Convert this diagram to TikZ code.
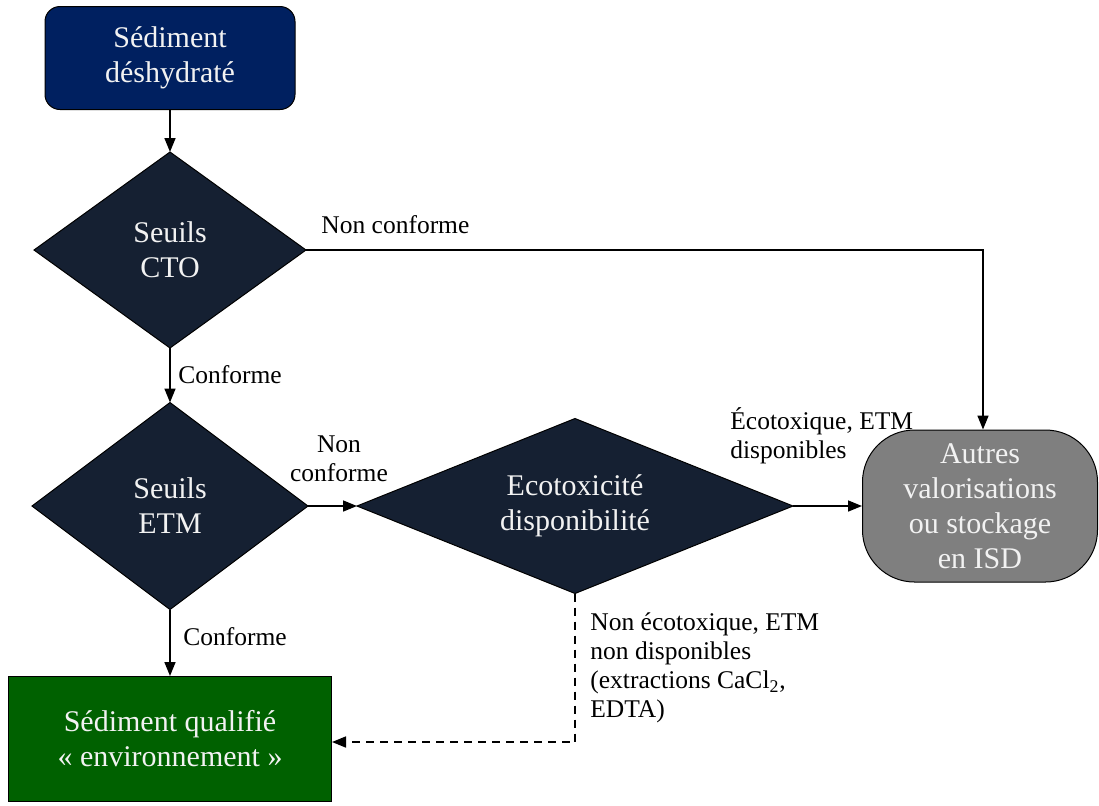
\documentclass[tikz,border=0pt]{standalone}
\usepackage{fontspec}
\setmainfont{Liberation Serif}
\usetikzlibrary{shapes.geometric,arrows.meta}
\definecolor{navybox}{HTML}{002060}
\definecolor{darkdiam}{HTML}{152032}
\definecolor{greenbox}{HTML}{006100}
\definecolor{graybox}{HTML}{7F7F7F}
\definecolor{lighttext}{HTML}{F2F2F2}
\begin{document}
\begin{tikzpicture}[x=0.5pt,y=-0.5pt,
  boxtext/.style={font=\fontsize{15}{17.5}\selectfont, text=lighttext, align=center},
  lbl/.style={font=\fontsize{12.75}{14.5}\selectfont, text=black, inner sep=0pt},
  decision/.style={diamond, boxtext, fill=darkdiam, draw=black, line width=0.5pt, inner sep=0pt, outer sep=0pt},
  arr/.style={line width=0.8pt, -{Triangle[length=7pt,width=5.5pt]}},
]
\useasboundingbox (0,0) rectangle (1099,805);
\node[boxtext, fill=navybox, draw=black, line width=0.5pt, rounded corners=7.5pt,
      minimum width=125pt, minimum height=51.5pt, inner sep=0pt] (top) at (170,58) {Sédiment\\déshydraté};
\node[decision, minimum width=136pt, minimum height=98pt, aspect=1.39] (cto) at (170,250) {Seuils\\CTO};
\node[decision, minimum width=138pt, minimum height=103.5pt, aspect=1.33] (etm) at (170,506) {Seuils\\ETM};
\node[decision, minimum width=218pt, minimum height=87.5pt, aspect=2.49] (eco) at (575,506) {Ecotoxicité\\disponibilité};
\node[boxtext, fill=graybox, draw=black, line width=0.5pt, rounded corners=26pt,
      minimum width=117.5pt, minimum height=76pt, inner sep=0pt] (autres) at (980,506) {Autres\\valorisations\\ou stockage\\en ISD};
\node[boxtext, fill=greenbox, draw=black, line width=0.5pt,
      minimum width=161.5pt, minimum height=62.5pt, inner sep=0pt] (green) at (170,739) {Sédiment qualifié\\« environnement »};

\draw[arr] (top.south) -- (cto.north);
\draw[arr] (cto.south) -- (etm.north);
\draw[arr] (cto.east) -| ([xshift=1.5pt]autres.north);
\draw[arr] (etm.east) -- (eco.west);
\draw[arr] (eco.east) -- (autres.west);
\draw[arr] (etm.south) -- (green.north);
\draw[arr, dashed, dash pattern=on 4pt off 3pt] (eco.south) |- ([yshift=-1.5pt]green.east);

\node[lbl, anchor=west] (lnc1) at (321,225) {Non conforme};
\node[lbl, anchor=west] (lc1) at (178,375) {Conforme};
\node[lbl, align=center] (lnc2) at (339,459) {Non\\conforme};
\node[lbl, anchor=west, align=left] (leco) at (730,436) {Écotoxique, ETM\\disponibles};
\node[lbl, anchor=west] (lc2) at (183,637) {Conforme};
\node[lbl, anchor=west, align=left] (lnon) at (590,668) {Non écotoxique, ETM\\non disponibles\\(extractions CaCl\textsubscript{2},\\EDTA)};
\end{tikzpicture}
\end{document}
